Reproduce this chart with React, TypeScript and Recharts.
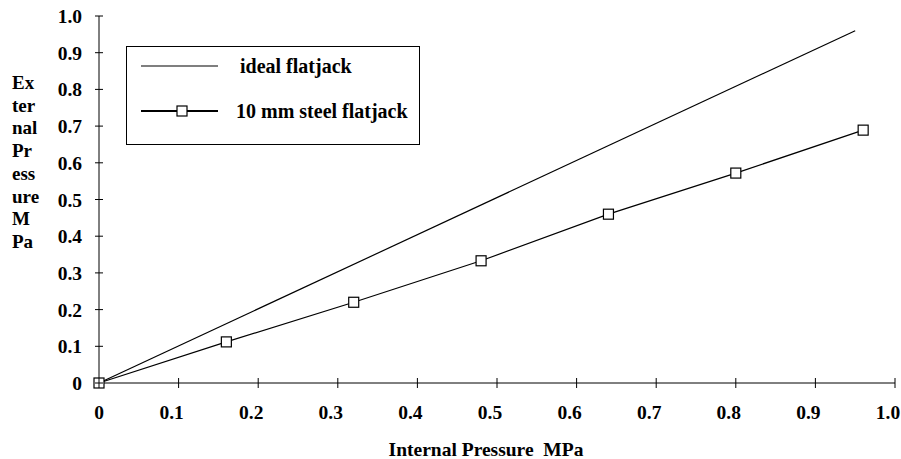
import React from 'react'
import { LineChart, Line, XAxis, YAxis, Legend } from 'recharts'

// internal pressure (MPa) at each load step
const internalPressure = [0, 0.16, 0.32, 0.48, 0.64, 0.8, 0.96]
const steelExternal = [0, 0.112, 0.22, 0.333, 0.46, 0.572, 0.689]
const idealInternal = [0, 0.95]
const idealExternal = [0, 0.96]
const axisTicks = [0, 0.1, 0.2, 0.3, 0.4, 0.5, 0.6, 0.7, 0.8, 0.9, 1.0]
const yLabelLines = ['Ex', 'ter', 'nal', 'Pr', 'ess', 'ure', 'M', 'Pa']
const seriesNames = ['ideal flatjack', '10 mm steel flatjack']

const steelData = internalPressure.map((x, i) => ({ x, y: steelExternal[i] }))
const idealData = idealInternal.map((x, i) => ({ x, y: idealExternal[i] }))

const FONT = '"Liberation Serif", "Times New Roman", serif'
const fmt = (v: number) => (v === 0 ? '0' : v.toFixed(1))

const SquareDot = (props: any) => {
  const { cx, cy } = props
  if (cx == null || cy == null) return null
  return <rect x={cx - 5} y={cy - 5} width={10} height={10} fill="#fff" stroke="#000" strokeWidth={1.2} />
}

const XTick = (props: any) => {
  const { x, y, payload } = props
  const label = fmt(payload.value)
  return (
    <g>
      <line x1={x} x2={x} y1={y - 5} y2={y + 5} stroke="#000" strokeWidth={1} />
      <text x={x + (label === '0' ? 0 : -7)} y={y + 36} textAnchor="middle" fontSize={19.5} fontWeight="bold" fontFamily={FONT} fill="#000">
        {label}
      </text>
    </g>
  )
}

const YTick = (props: any) => {
  const { x, y, payload } = props
  return (
    <g>
      <line x1={x - 4} x2={x + 4} y1={y} y2={y} stroke="#000" strokeWidth={1} />
      <text x={x - 17} y={y + 7} textAnchor="end" fontSize={19.5} fontWeight="bold" fontFamily={FONT} fill="#000">
        {fmt(payload.value)}
      </text>
    </g>
  )
}

const YLabel = () => (
  <g>
    {yLabelLines.map((s, i) => (
      <text key={s} x={12} y={89 + i * 22.7} fontSize={19} fontWeight="bold" fontFamily={FONT} fill="#000">
        {s}
      </text>
    ))}
  </g>
)

const LegendBox = (props: any) => {
  const payload = [...(props.payload || [])].sort(
    (a: any, b: any) => seriesNames.indexOf(a.value) - seriesNames.indexOf(b.value)
  )
  return (
    <svg width={294} height={99} style={{ display: 'block' }}>
      <rect x={0.5} y={0.5} width={293} height={98} fill="#fff" stroke="#000" strokeWidth={1} />
      {payload.map((p: any, i: number) => {
        const cy = 20 + i * 45
        return (
          <g key={p.value}>
            <line x1={15} x2={92} y1={cy} y2={cy} stroke="#000" strokeWidth={i === 1 ? 2 : 1.2} />
            {i === 1 && <rect x={51} y={cy - 5} width={10} height={10} fill="#fff" stroke="#000" strokeWidth={1.2} />}
            <text x={i === 1 ? 110 : 114} y={cy + 7} fontSize={20} fontWeight="bold" fontFamily={FONT} fill="#000">
              {p.value}
            </text>
          </g>
        )
      })}
    </svg>
  )
}

export default function App() {
  return (
    <div style={{ position: 'absolute', left: 0, top: 0, width: 901, height: 459, background: '#fff', fontFamily: FONT }}>
      <LineChart width={901} height={459} margin={{ top: 16, right: 6, bottom: 0, left: 0 }}>
        <XAxis
          dataKey="x"
          type="number"
          domain={[0, 1]}
          ticks={axisTicks}
          interval={0}
          height={76}
          tickSize={0}
          tickMargin={0}
          tickLine={false}
          tick={<XTick />}
          axisLine={{ stroke: '#000', strokeWidth: 1 }}
          allowDuplicatedCategory={false}
          label={{
            value: 'Internal Pressure \u00a0MPa',
            position: 'insideBottom',
            offset: 3,
            dx: -11,
            fontSize: 19.5,
            fontWeight: 'bold',
            fontFamily: FONT,
            fill: '#000',
          }}
        />
        <YAxis
          dataKey="y"
          type="number"
          domain={[0, 1]}
          ticks={axisTicks}
          interval={0}
          width={99}
          tickSize={0}
          tickMargin={0}
          tickLine={false}
          tick={<YTick />}
          axisLine={{ stroke: '#000', strokeWidth: 1 }}
          label={{ content: () => <YLabel /> }}
        />
        <Legend
          layout="horizontal"
          verticalAlign="middle"
          align="center"
          wrapperStyle={{ position: 'absolute', left: 126, top: 46, width: 294 }}
          content={<LegendBox />}
        />
        <Line
          data={idealData}
          dataKey="y"
          name={seriesNames[0]}
          stroke="#000"
          strokeWidth={1.2}
          dot={false}
          activeDot={false}
          type="linear"
          isAnimationActive={false}
        />
        <Line
          data={steelData}
          dataKey="y"
          name={seriesNames[1]}
          stroke="#000"
          strokeWidth={1.2}
          dot={<SquareDot />}
          activeDot={false}
          type="linear"
          isAnimationActive={false}
        />
      </LineChart>
    </div>
  )
}
